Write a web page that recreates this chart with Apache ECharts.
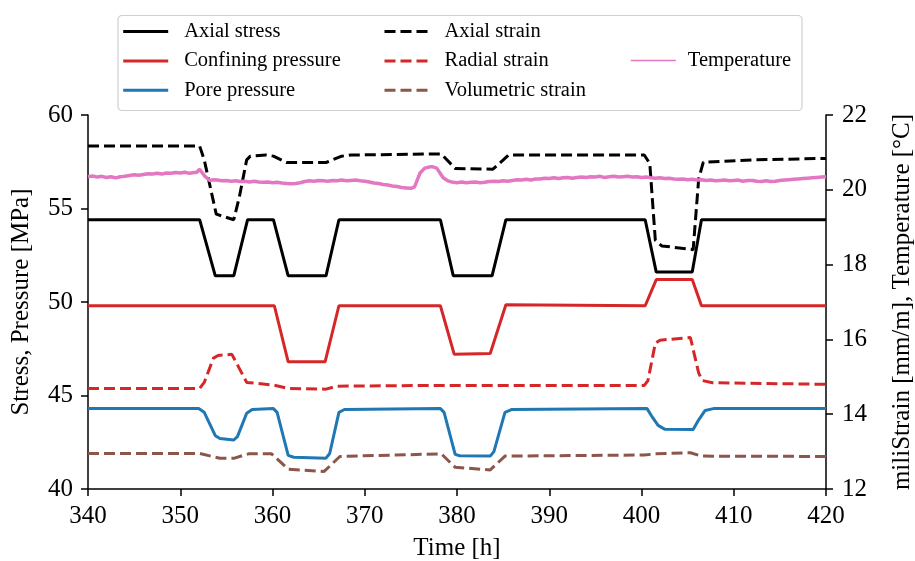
<!DOCTYPE html>
<html><head><meta charset="utf-8">
<script src="https://cdn.jsdelivr.net/npm/echarts@6/dist/echarts.min.js"></script>
<style>html,body{margin:0;padding:0;background:#fff}#c{width:915px;height:561px}</style>
</head><body><div id="c"></div><script>
// ---- data (time [h], value) ----
const axialStress = [[340,54.4],[352.1,54.4],[353.8,51.4],[355.8,51.4],[357.3,54.4],[360.1,54.4],[361.7,51.4],[365.8,51.4],[367.2,54.4],[378.2,54.4],[379.6,51.4],[383.8,51.4],[385.3,54.4],[400.4,54.4],[401.6,51.6],[405.5,51.6],[406.5,54.4],[420,54.4]];
const confiningPressure = [[340,49.8],[360.2,49.8],[361.7,46.8],[365.7,46.8],[367.2,49.8],[378.2,49.8],[379.7,47.2],[383.6,47.25],[385.3,49.85],[400.4,49.8],[401.6,51.2],[405.5,51.2],[406.5,49.8],[420,49.8]];
const porePressure = [[340,44.3],[352.0,44.3],[352.6,44.1],[353.8,42.85],[354.3,42.7],[355.8,42.62],[356.2,42.8],[357.2,44.05],[357.8,44.25],[360.1,44.3],[360.5,44.1],[361.7,41.8],[362.3,41.7],[365.8,41.65],[366.2,41.9],[367.2,44.1],[367.8,44.25],[378.2,44.3],[378.6,44.1],[379.8,41.85],[380.3,41.78],[383.6,41.76],[384.0,42.0],[385.2,44.1],[385.9,44.25],[400.6,44.3],[401.1,43.9],[401.8,43.4],[402.5,43.2],[405.6,43.18],[406.2,43.7],[406.9,44.2],[407.8,44.3],[420,44.3]];
const axialStrain = [[340,21.17],[352.1,21.17],[352.6,20.8],[353.9,19.35],[355.8,19.2],[356.4,19.8],[357.2,20.8],[357.6,20.9],[359.3,20.93],[360.1,20.9],[361.5,20.73],[365.8,20.73],[367.5,20.9],[368.5,20.93],[378.3,20.96],[379.8,20.57],[383.9,20.55],[385.6,20.93],[400.3,20.93],[400.9,20.7],[401.5,18.65],[402.2,18.5],[405.6,18.4],[406.2,20.3],[406.7,20.74],[412,20.8],[420,20.84]];
const radialStrain = [[340,14.69],[352.1,14.69],[352.6,14.85],[353.6,15.5],[354.1,15.57],[355.6,15.6],[357.2,14.85],[360.1,14.78],[361.7,14.69],[365.8,14.67],[367,14.75],[378,14.77],[384,14.77],[400.3,14.77],[400.7,14.9],[401.5,15.9],[402,15.98],[405.3,16.05],[406.2,15.1],[406.6,14.9],[407.7,14.84],[420,14.8]];
const volumetricStrain = [[340,12.95],[352.1,12.95],[354.3,12.82],[355.8,12.82],[357.4,12.94],[359.9,12.94],[361.7,12.53],[365.6,12.47],[367.3,12.87],[378.3,12.94],[379.8,12.58],[383.6,12.51],[385.2,12.88],[400.3,12.91],[401.6,12.94],[405.3,12.97],[406.5,12.88],[420,12.87]];
const temperature = [[340,20.35],[340.5,20.37],[341,20.34],[341.5,20.36],[342,20.33],[342.5,20.35],[343,20.32],[343.5,20.35],[344,20.36],[344.5,20.38],[345,20.40],[345.5,20.39],[346,20.41],[346.5,20.43],[347,20.42],[347.5,20.44],[348,20.42],[348.5,20.45],[349,20.44],[349.5,20.46],[350,20.45],[350.5,20.47],[351,20.44],[351.5,20.46],[351.8,20.47],[352.1,20.55],[352.6,20.38],[353.2,20.25],[353.6,20.27],[354,20.26],[354.5,20.24],[355,20.25],[355.5,20.23],[356,20.24],[356.5,20.22],[357,20.23],[357.5,20.21],[358,20.23],[358.5,20.21],[359,20.20],[359.5,20.21],[360,20.19],[360.5,20.20],[361,20.18],[361.5,20.17],[362,20.16],[362.5,20.17],[363,20.19],[363.5,20.22],[364,20.24],[364.5,20.23],[365,20.25],[365.5,20.24],[366,20.23],[366.5,20.25],[367,20.24],[367.5,20.26],[368,20.24],[368.5,20.25],[369,20.26],[369.5,20.24],[370,20.23],[370.5,20.21],[371,20.18],[371.5,20.17],[372,20.14],[372.5,20.13],[373,20.10],[373.5,20.09],[374,20.06],[374.5,20.05],[375,20.04],[375.4,20.08],[376,20.45],[376.5,20.58],[377,20.61],[377.3,20.62],[377.8,20.58],[378.5,20.32],[379,20.24],[379.4,20.21],[380,20.19],[380.5,20.21],[381,20.19],[381.5,20.20],[382,20.21],[382.5,20.19],[383,20.20],[383.5,20.22],[384,20.23],[384.5,20.22],[385,20.24],[385.5,20.23],[386,20.25],[386.5,20.27],[387,20.26],[387.5,20.28],[388,20.26],[388.5,20.29],[389,20.29],[389.5,20.31],[390,20.30],[390.5,20.32],[391,20.30],[391.5,20.32],[392,20.33],[392.5,20.31],[393,20.33],[393.5,20.34],[394,20.33],[394.5,20.35],[395,20.34],[395.5,20.36],[396,20.33],[396.5,20.35],[397,20.36],[397.5,20.34],[398,20.35],[398.5,20.36],[399,20.34],[399.5,20.35],[400,20.33],[400.5,20.34],[401,20.32],[401.5,20.31],[402,20.32],[402.5,20.30],[403,20.31],[403.5,20.29],[404,20.28],[404.5,20.29],[405,20.27],[405.5,20.28],[406,20.26],[406.5,20.27],[407,20.25],[407.5,20.26],[408,20.24],[408.5,20.25],[409,20.26],[409.5,20.24],[410,20.25],[410.5,20.26],[411,20.23],[411.5,20.25],[412,20.25],[412.5,20.23],[413,20.22],[413.5,20.24],[414,20.22],[414.5,20.23],[415,20.25],[415.5,20.26],[416,20.27],[416.5,20.28],[417,20.29],[417.5,20.30],[418,20.31],[418.5,20.32],[419,20.33],[419.5,20.34],[420,20.35]];
const xTicks = {min:340, max:420, interval:10};
const yLeftTicks = {min:40, max:60, interval:5};
const yRightTicks = {min:12, max:22, interval:2};

const FONT = '"Liberation Serif", "DejaVu Serif", "Times New Roman", serif';
const AX = 25;
const chart = echarts.init(document.getElementById('c'), null, {renderer:'canvas'});
const axisCommon = {
  axisLine:{show:true, lineStyle:{color:'#000', width:1.5}},
  axisTick:{show:true, length:7, lineStyle:{color:'#000', width:1.5}},
  splitLine:{show:false},
  nameTextStyle:{fontFamily:FONT, fontSize:AX, color:'#000'}
};
function line(name, data, color, width, dashed, yIdx) {
  return {name, type:'line', data, yAxisIndex:yIdx, symbol:'none', showSymbol:false, animation:false,
    lineStyle:{color, width, type: dashed ? [11,5] : 'solid'}, itemStyle:{color}};
}
const legendText = (pad) => ({fontFamily:FONT, fontSize:20.5, color:'#000', padding:[0,0,0,pad]});
const legendBase = (lw) => ({orient:'vertical', itemWidth:45, itemHeight:14, itemGap:8.4, selectedMode:false,
  itemStyle:{opacity:0, borderWidth:0}, lineStyle:{width:lw}});
chart.setOption({
  backgroundColor:'#fff',
  animation:false,
  grid:{left:88, right:89, top:115, bottom:72, outerBoundsMode:'none', containLabel:false},
  xAxis:Object.assign({type:'value', min:xTicks.min, max:xTicks.max, interval:xTicks.interval,
    name:'Time [h]', nameLocation:'middle', nameGap:47}, axisCommon,
    {axisLabel:{fontFamily:FONT, fontSize:AX, color:'#000', margin:15}}),
  yAxis:[
    Object.assign({type:'value', min:yLeftTicks.min, max:yLeftTicks.max, interval:yLeftTicks.interval, position:'left',
      name:'Stress, Pressure [MPa]', nameLocation:'middle', nameRotate:90, nameGap:54}, axisCommon,
      {axisLabel:{fontFamily:FONT, fontSize:AX, color:'#000', margin:15}}),
    Object.assign({type:'value', min:yRightTicks.min, max:yRightTicks.max, interval:yRightTicks.interval, position:'right',
      name:'miliStrain [mm/m], Temperature [°C]', nameLocation:'middle', nameRotate:90, nameGap:64}, axisCommon,
      {axisLabel:{fontFamily:FONT, fontSize:AX, color:'#000', margin:16}})
  ],
  legend:[
    Object.assign({left:116.7, top:16, data:['Axial stress','Confining pressure','Pore pressure'], textStyle:legendText(11)}, legendBase(3)),
    Object.assign({left:378, top:16, data:['Axial strain','Radial strain','Volumetric strain'], textStyle:legendText(10)}, legendBase(3)),
    Object.assign({left:625, top:45, data:['Temperature'], textStyle:legendText(7)}, legendBase(1.6))
  ],
  graphic:[{type:'rect', left:115.5, top:13, shape:{width:684, height:95, r:4},
    style:{fill:'none', stroke:'#cfcfcf', lineWidth:1.2}, silent:true}],
  series:[
    line('Axial stress', axialStress, '#000000', 3, false, 0),
    line('Confining pressure', confiningPressure, '#d62728', 3, false, 0),
    line('Pore pressure', porePressure, '#1f77b4', 3, false, 0),
    line('Axial strain', axialStrain, '#000000', 3, true, 1),
    line('Radial strain', radialStrain, '#d62728', 3, true, 1),
    line('Volumetric strain', volumetricStrain, '#8c564b', 3, true, 1),
    line('Temperature', temperature, '#e377c2', 3.5, false, 1)
  ]
});
</script></body></html>
